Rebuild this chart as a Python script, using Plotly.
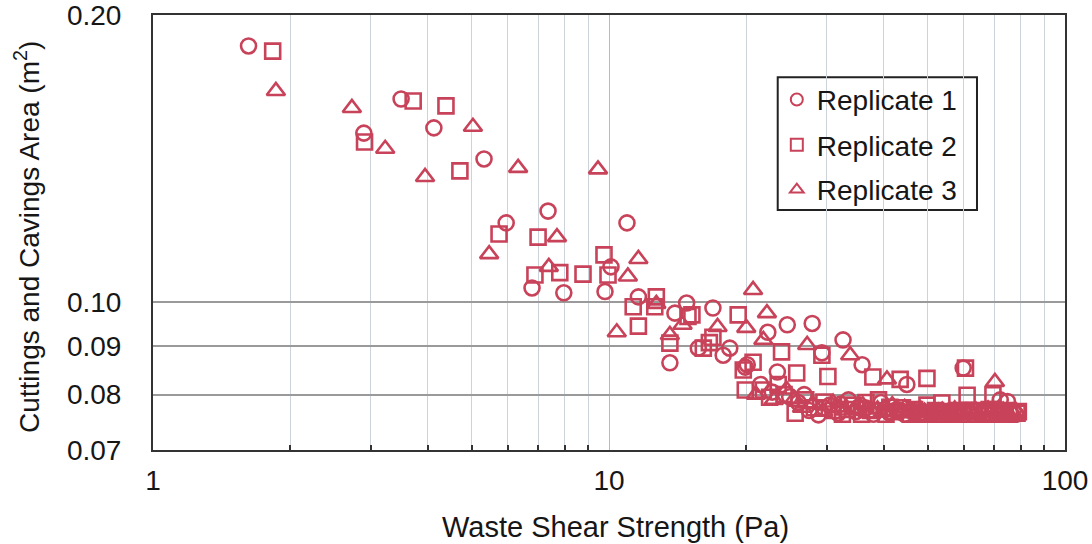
import plotly.graph_objects as go

# Replicate 1 (open circles): shear strength (Pa) and area (m^2)
rep1_x = [1.62, 2.90, 3.50, 4.13, 5.32, 5.95, 7.35, 10.95, 6.78, 7.96, 9.80, 10.1, 11.6,
          14.8, 13.95, 16.9, 13.6, 15.7, 17.8, 18.4, 22.3, 24.6, 27.9, 23.4, 19.9, 20.1,
          24.9, 29.3, 32.6, 35.9, 45.0, 59.8, 72.1, 74.8,
          21.5, 22.8, 26.0, 27.5, 28.8, 30.5, 31.8, 33.5, 34.8, 36.5, 38.0, 39.5, 41.2,
          42.8, 44.5, 46.5, 48.4, 50.5, 52.6, 55.0, 57.5, 60.0, 62.5, 65.0, 67.6, 70.0,
          73.0, 76.0, 78.0,
          26.8, 29.6, 32.2, 35.2, 37.2, 40.2, 43.6, 47.4, 51.5, 56.2, 61.2, 66.3, 71.5,
          77.0]
rep1_y = [0.1856, 0.1504, 0.1633, 0.1523, 0.1413, 0.1211, 0.1246, 0.1211, 0.1035, 0.1023,
          0.1026, 0.1089, 0.1013, 0.0998, 0.0974, 0.0986, 0.0864, 0.0895, 0.0880, 0.0895,
          0.0930, 0.0947, 0.0950, 0.0845, 0.0855, 0.0860, 0.0796, 0.0885, 0.0913, 0.0860,
          0.0820, 0.0853, 0.0790, 0.0787,
          0.0820, 0.0805, 0.0785, 0.0770, 0.0762, 0.0780, 0.0765, 0.0790, 0.0768, 0.0775,
          0.0763, 0.0785, 0.0766, 0.0772, 0.0763, 0.0768, 0.0763, 0.0766, 0.0763, 0.0765,
          0.0763, 0.0767, 0.0763, 0.0765, 0.0763, 0.0766, 0.0763, 0.0765, 0.0763,
          0.0800, 0.0775, 0.0782, 0.0775, 0.0770, 0.0772, 0.0770, 0.0772, 0.0770, 0.0770,
          0.0770, 0.0770, 0.0770, 0.0770]

# Replicate 2 (open squares)
rep2_x = [1.83, 3.72, 4.39, 2.91, 4.71, 5.74, 6.99, 9.75, 6.88, 7.80, 8.77, 9.95, 11.3,
          11.6, 12.7, 12.6, 15.2, 14.9, 13.6, 16.9, 16.6, 19.2, 16.1, 19.7, 20.7, 19.9,
          21.8, 23.9, 25.6, 25.8, 29.3, 30.2, 37.9, 43.5, 49.8, 60.5, 61.0, 53.7, 49.8,
          69.5,
          22.5, 23.5, 27.0, 28.2, 31.0, 32.5, 34.2, 35.8, 37.5, 39.0, 40.5, 42.2, 44.0,
          45.8, 47.8, 50.0, 52.0, 54.5, 57.0, 59.5, 62.0, 64.5, 67.0, 69.5, 72.5, 75.5,
          78.5,
          24.2, 29.6, 33.3, 36.6, 41.3, 46.8, 53.2, 58.2, 63.2, 68.2, 74.0, 79.0]
rep2_y = [0.1833, 0.1625, 0.1606, 0.1472, 0.1373, 0.1179, 0.1170, 0.1121, 0.1068, 0.1074,
          0.1070, 0.1068, 0.0989, 0.0944, 0.1013, 0.0989, 0.0970, 0.0966, 0.0906, 0.0919,
          0.0907, 0.0970, 0.0895, 0.0849, 0.0865, 0.0809, 0.0809, 0.0887, 0.0765, 0.0843,
          0.0880, 0.0836, 0.0835, 0.0830, 0.0832, 0.0853, 0.0799, 0.0784, 0.0780, 0.0800,
          0.0795, 0.0820, 0.0790, 0.0775, 0.0770, 0.0763, 0.0780, 0.0763, 0.0770, 0.0790,
          0.0763, 0.0768, 0.0775, 0.0763, 0.0766, 0.0763, 0.0770, 0.0763, 0.0766, 0.0763,
          0.0768, 0.0763, 0.0766, 0.0763, 0.0767, 0.0763, 0.0765,
          0.0800, 0.0786, 0.0772, 0.0785, 0.0776, 0.0772, 0.0768, 0.0770, 0.0770, 0.0772,
          0.0770, 0.0768]

# Replicate 3 (open triangles)
rep3_x = [1.86, 2.73, 3.23, 5.03, 3.95, 6.32, 9.46, 5.46, 7.69, 7.38, 11.0, 11.6, 10.4,
          12.7, 14.5, 13.6, 17.3, 20.0, 20.7, 22.2, 21.8, 27.2, 33.8, 40.7, 70.2,
          21.0, 23.0, 24.5, 26.5, 29.5, 31.0, 33.0, 36.0, 37.0, 38.8, 41.8, 43.5, 45.5,
          47.2, 49.2, 51.5, 53.8, 56.2, 58.5, 61.0, 63.8, 66.5, 69.0, 71.8, 74.5, 77.0,
          25.5, 28.0, 32.0, 34.5, 40.0, 44.5, 48.2, 52.7, 57.3, 62.4, 67.8, 73.2, 78.2]
rep3_y = [0.1665, 0.1598, 0.1448, 0.1527, 0.1353, 0.1383, 0.1378, 0.1123, 0.1170, 0.1089,
          0.1064, 0.1110, 0.0930, 0.0996, 0.0947, 0.0924, 0.0942, 0.0940, 0.1030, 0.0974,
          0.0913, 0.0902, 0.0880, 0.0830, 0.0825,
          0.0800, 0.0790, 0.0810, 0.0775, 0.0768, 0.0785, 0.0770, 0.0780, 0.0765, 0.0772,
          0.0780, 0.0765, 0.0770, 0.0765, 0.0768, 0.0765, 0.0770, 0.0765, 0.0768, 0.0765,
          0.0770, 0.0765, 0.0768, 0.0775, 0.0768, 0.0765,
          0.0792, 0.0782, 0.0776, 0.0772, 0.0767, 0.0775, 0.0772, 0.0768, 0.0772, 0.0768,
          0.0772, 0.0770, 0.0768]

y_ticks = [0.07, 0.08, 0.09, 0.10, 0.20]
y_labels = ["0.07", "0.08", "0.09", "0.10", "0.20"]
x_ticks = [1, 10, 100]
x_labels = ["1", "10", "100"]
x_minor = [2, 3, 4, 5, 6, 7, 8, 9, 20, 30, 40, 50, 60, 70, 80, 90]

RED = "#C8435A"
FONT = "Liberation Sans, Arial, sans-serif"
INK = "#161616"

fig = go.Figure()
series = [
    ("Replicate 1", rep1_x, rep1_y, "circle-open", 15, "legend"),
    ("Replicate 2", rep2_x, rep2_y, "square-open", 15, "legend2"),
    ("Replicate 3", rep3_x, rep3_y, "triangle-up-open", 16, "legend3"),
]
for name, xs, ys, sym, size, leg in series:
    fig.add_trace(go.Scatter(
        x=xs, y=ys, mode="markers", name=name, legend=leg,
        marker=dict(symbol=sym, size=size, color=RED, line=dict(width=2.6, color=RED)),
    ))

# one legend per series so the rows can be spaced like the boxed key
legend_common = dict(
    bgcolor="rgba(0,0,0,0)", borderwidth=0, font=dict(family=FONT, size=28, color=INK),
    xanchor="left", yanchor="middle", itemsizing="constant", itemwidth=30,
    xref="paper", yref="paper",
)
fig.update_layout(
    legend=dict(x=0.684, y=0.805, **legend_common),
    legend2=dict(x=0.684, y=0.701, **legend_common),
    legend3=dict(x=0.684, y=0.598, **legend_common),
)

fig.add_shape(type="rect", xref="paper", yref="paper",
              x0=0.685, x1=0.9035, y0=0.552, y1=0.857,
              line=dict(color="#222", width=2), fillcolor="white", layer="below")

fig.update_xaxes(
    type="log", range=[-0.000001, 2.000001], tickvals=x_ticks, ticktext=x_labels,
    showgrid=True, gridcolor="#b4bac2", gridwidth=1,
    showline=True, mirror=True, linecolor="#333", linewidth=2,
    ticks="outside", ticklen=4, tickcolor="rgba(0,0,0,0)",
    tickfont=dict(family=FONT, size=28, color=INK), ticklabeloverflow="allow",
    minor=dict(tickvals=x_minor, showgrid=True, gridcolor="#ccd3db", gridwidth=1,
               ticks="inside", ticklen=5, tickcolor="#333", tickwidth=1.5),
    zeroline=False, automargin=False,
)
fig.update_yaxes(
    type="log", range=[-1.154903, -0.698969], tickvals=y_ticks, ticktext=y_labels,
    showgrid=True, gridcolor="#9a9a9a", gridwidth=1.5,
    showline=True, mirror=True, linecolor="#333", linewidth=2,
    ticks="outside", ticklen=24, tickcolor="rgba(0,0,0,0)",
    tickfont=dict(family=FONT, size=28, color=INK), ticklabeloverflow="allow",
    zeroline=False, automargin=False,
)

fig.add_annotation(text="Waste Shear Strength (Pa)", xref="paper", yref="paper",
                   x=0.507, y=-0.177, xanchor="center", yanchor="middle", showarrow=False,
                   font=dict(family=FONT, size=29, color=INK))
fig.add_annotation(text="Cuttings and Cavings Area (m<sup>2</sup>)", xref="paper", yref="paper",
                   x=-0.138, y=0.49, xanchor="center", yanchor="middle", showarrow=False,
                   textangle=-90, font=dict(family=FONT, size=28, color=INK))

fig.update_layout(
    width=1092, height=544,
    margin=dict(l=153, r=27, t=15, b=94, autoexpand=False),
    paper_bgcolor="white", plot_bgcolor="white",
    showlegend=True,
)

fig.write_html("out.html")
